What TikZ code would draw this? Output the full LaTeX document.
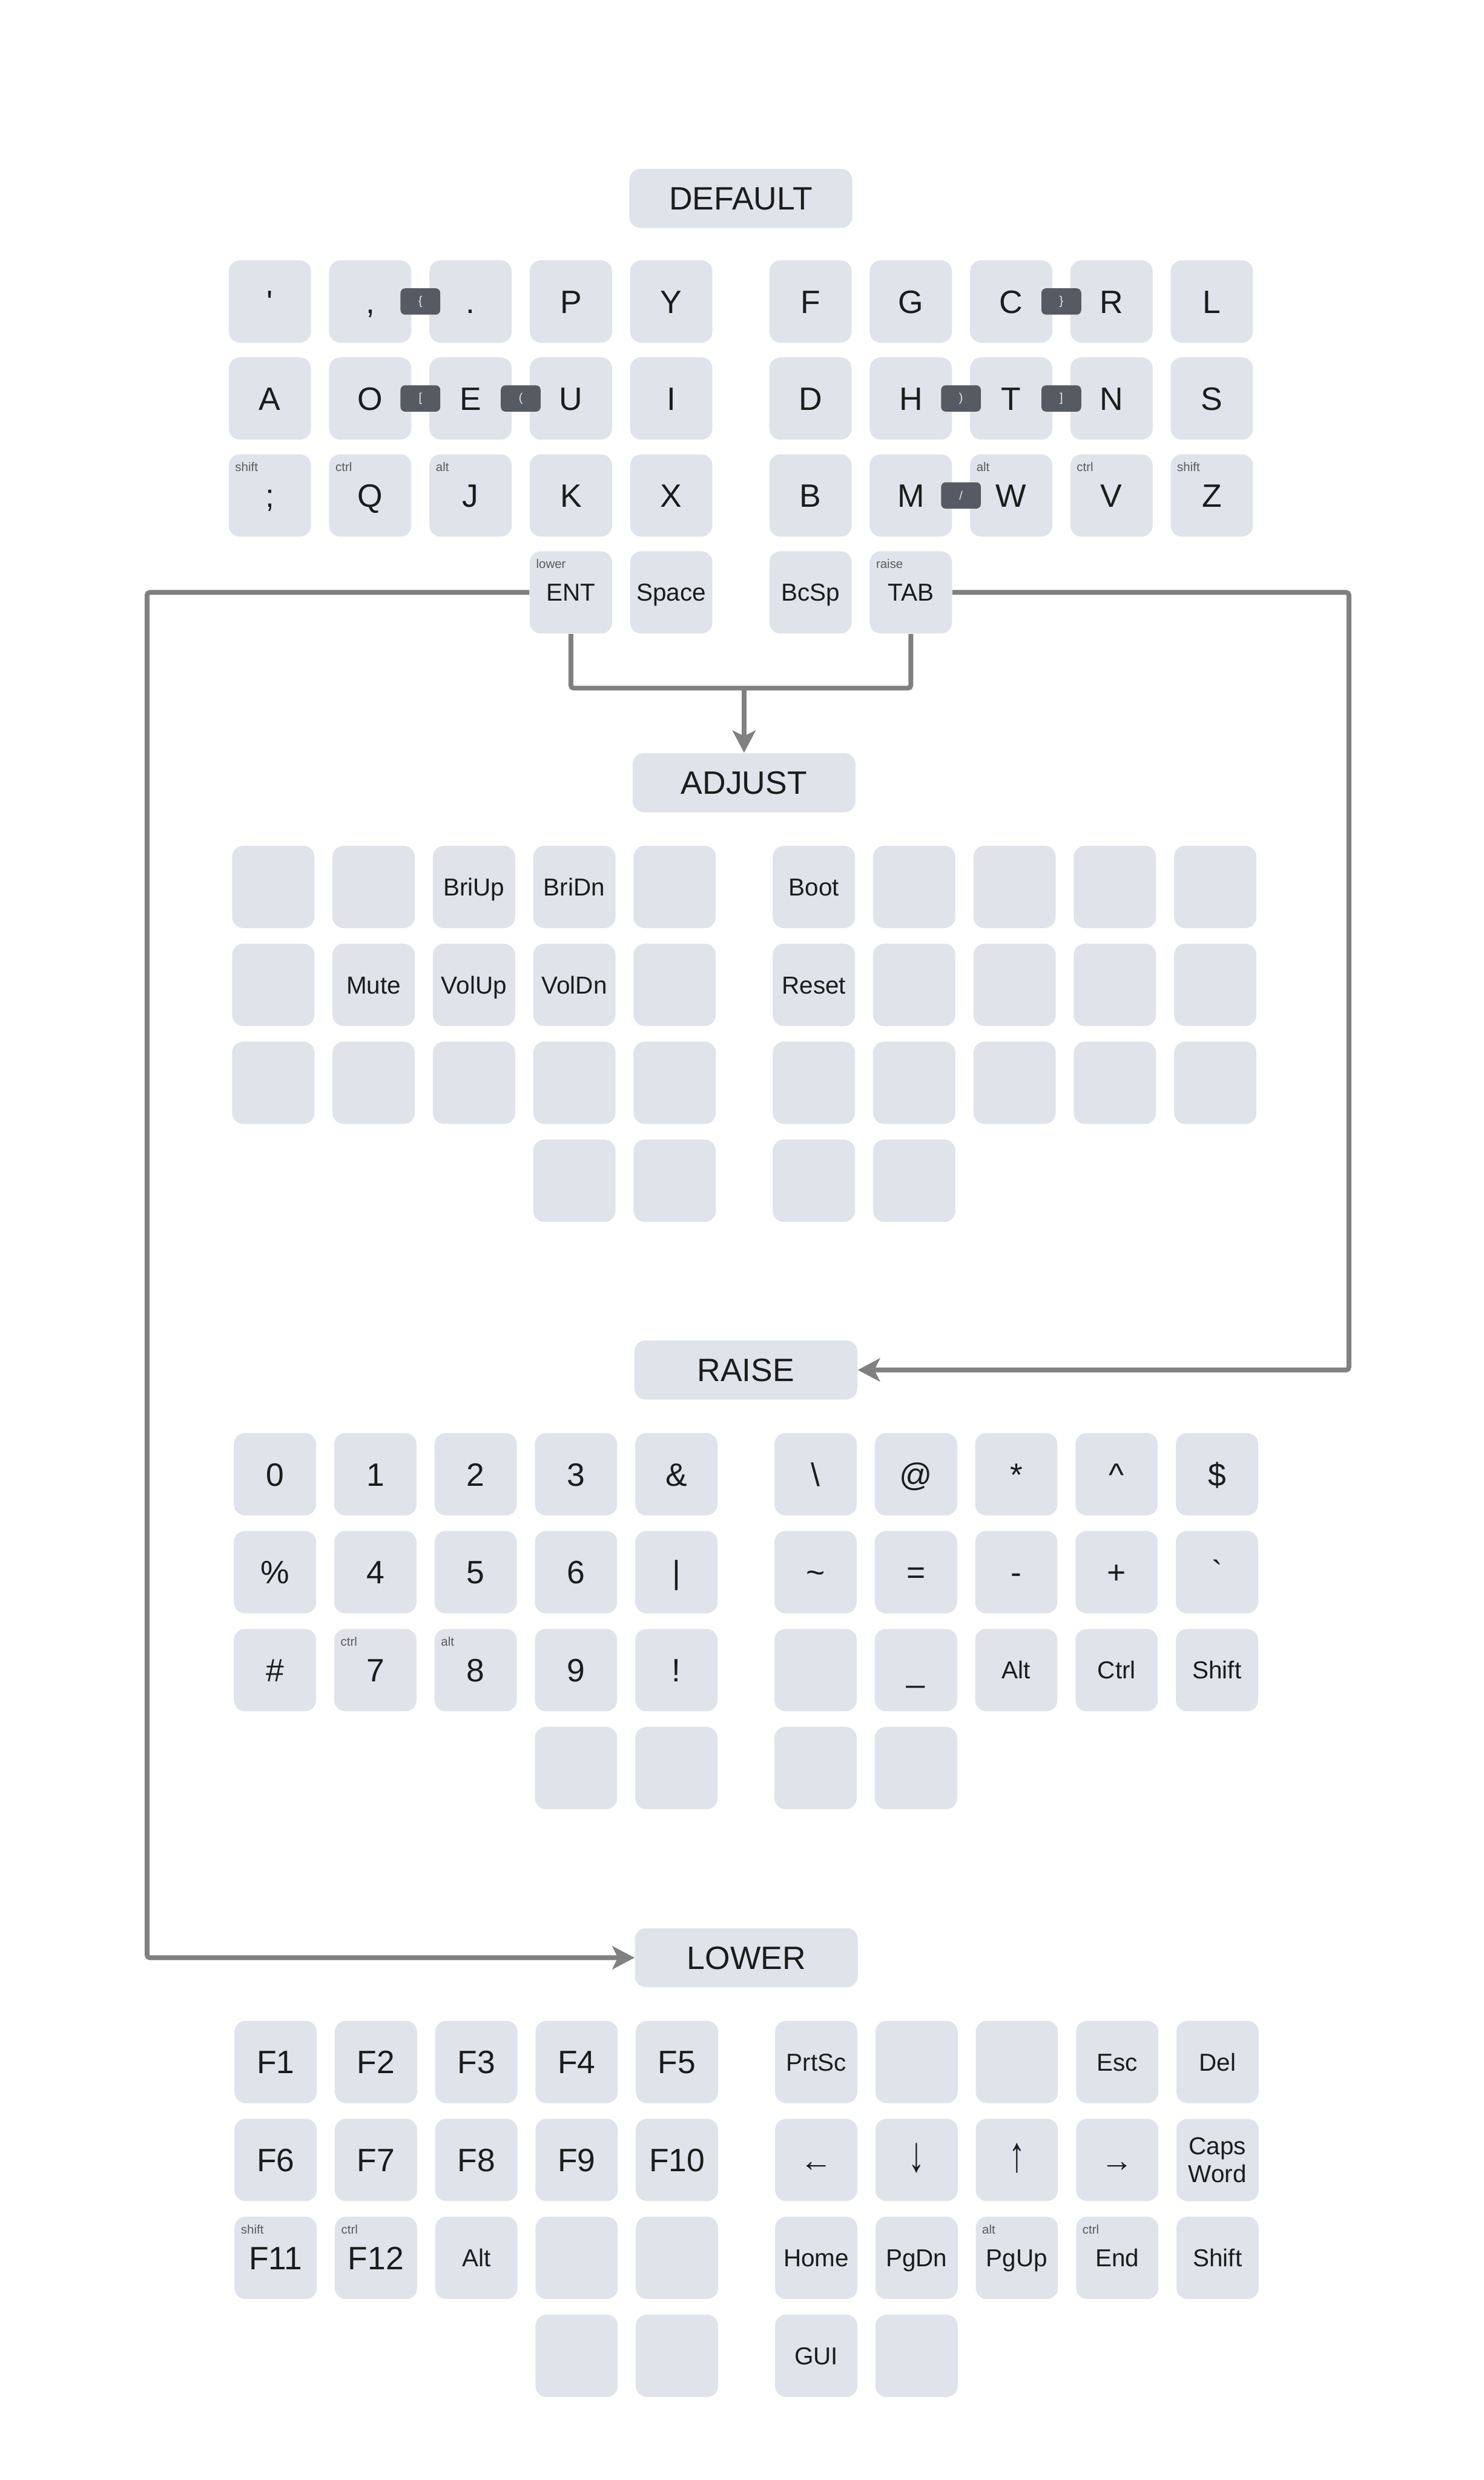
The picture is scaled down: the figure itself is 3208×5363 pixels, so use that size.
\documentclass[tikz,border=0pt]{standalone}
\usepackage{fontspec}
\setmainfont{Liberation Sans}[Ligatures=TeXOff]
\usetikzlibrary{arrows.meta,calc}
\definecolor{keyfill}{HTML}{E0E4EA}
\definecolor{keytext}{HTML}{1C1C1C}
\definecolor{holdtext}{HTML}{5A5A5A}
\definecolor{badgefill}{HTML}{565B63}
\definecolor{badgetext}{HTML}{E4E7EC}
\definecolor{linegray}{HTML}{808080}
\newcommand\kbig{\fontsize{17.5pt}{21pt}\selectfont}
\newcommand\ksmall{\fontsize{13.25pt}{15pt}\selectfont}
\newcommand\khold{\fontsize{6.7pt}{8pt}\selectfont}
\newcommand\kbadge{\fontsize{6.5pt}{8pt}\selectfont}
\newcommand\kst{\rule[-0.21em]{0pt}{1.136em}}
\tikzset{
  keybox/.style={rectangle, rounded corners=6pt, minimum width=44.5pt, minimum height=44.5pt, inner sep=0pt, fill=keyfill, text=keytext, font=\kbig, align=center},
  sm/.style={font=\ksmall},
  titlebox/.style={rectangle, rounded corners=6pt, minimum width=120.5pt, minimum height=32pt, inner sep=0pt, fill=keyfill, text=keytext, font=\kbig},
  holdlbl/.style={anchor=base west, inner sep=0pt, text=holdtext, font=\khold},
  badge/.style={rectangle, rounded corners=2.5pt, minimum width=21.5pt, minimum height=14.25pt, inner sep=0pt, fill=badgefill, text=badgetext, font=\kbadge},
  conn/.style={draw=linegray, line width=2.6pt, rounded corners=1.5pt},
  arr/.style={-{Stealth[length=12pt,width=12.5pt,inset=3pt]}}
}
\def\colc{{89,306,523,740,957,1258,1475,1692,1909,2126}}
\newcommand\kcap[5][]{%
  \pgfmathsetmacro\kxx{\LX+\colc[#3]}%
  \pgfmathsetmacro\kyy{\LY+#4*\RP+89}%
  \node[keybox,#1] (#2) at (\kxx,\kyy) {\kst#5};}
\newcommand\khl[3]{\node[holdlbl] (#1) at ($(#2.north west)+(3.5pt,-9.5pt)$) {#3};}
\newcommand\kbd[4]{\node[badge] (#1) at ($(#2)!0.5!(#3)$) {#4};}
\newcommand\vup[1]{\scalebox{1}[1.55]{#1}}
\begin{document}
\begin{tikzpicture}[x=0.25pt,y=-0.25pt]
\fill[white] (0,0) rectangle (3208,5363);
\useasboundingbox (0,0) rectangle (3208,5363);
% ---------------- DEFAULT ----------------
\node[titlebox] (tDefault) at (1602,429) {\kst DEFAULT};
\def\LX{494.6}\def\LY{563}\def\RP{209.7}
\kcap{d00}{0}{0}{'}\kcap{d01}{1}{0}{,}\kcap{d02}{2}{0}{.}\kcap{d03}{3}{0}{P}\kcap{d04}{4}{0}{Y}
\kcap{d05}{5}{0}{F}\kcap{d06}{6}{0}{G}\kcap{d07}{7}{0}{C}\kcap{d08}{8}{0}{R}\kcap{d09}{9}{0}{L}
\kcap{d10}{0}{1}{A}\kcap{d11}{1}{1}{O}\kcap{d12}{2}{1}{E}\kcap{d13}{3}{1}{U}\kcap{d14}{4}{1}{I}
\kcap{d15}{5}{1}{D}\kcap{d16}{6}{1}{H}\kcap{d17}{7}{1}{T}\kcap{d18}{8}{1}{N}\kcap{d19}{9}{1}{S}
\kcap{d20}{0}{2}{;}\kcap{d21}{1}{2}{Q}\kcap{d22}{2}{2}{J}\kcap{d23}{3}{2}{K}\kcap{d24}{4}{2}{X}
\kcap{d25}{5}{2}{B}\kcap{d26}{6}{2}{M}\kcap{d27}{7}{2}{W}\kcap{d28}{8}{2}{V}\kcap{d29}{9}{2}{Z}
\kcap[sm]{d33}{3}{3}{ENT}\kcap[sm]{d34}{4}{3}{Space}\kcap[sm]{d35}{5}{3}{BcSp}\kcap[sm]{d36}{6}{3}{TAB}
\khl{hd20}{d20}{shift}\khl{hd21}{d21}{ctrl}\khl{hd22}{d22}{alt}
\khl{hd27}{d27}{alt}\khl{hd28}{d28}{ctrl}\khl{hd29}{d29}{shift}
\khl{hd33}{d33}{lower}\khl{hd36}{d36}{raise}
\kbd{b1}{d01}{d02}{\{}\kbd{b2}{d07}{d08}{\}}
\kbd{b3}{d11}{d12}{[}\kbd{b4}{d12}{d13}{(}
\kbd{b5}{d16}{d17}{)}\kbd{b6}{d17}{d18}{]}
\kbd{b7}{d26}{d27}{/}
% ---------------- ADJUST ----------------
\node[titlebox] (tAdjust) at (1609,1692.5) {\kst ADJUST};
\def\LX{502}\def\LY{1829}\def\RP{211.8}
\kcap{a00}{0}{0}{}\kcap{a01}{1}{0}{}\kcap[sm]{a02}{2}{0}{BriUp}\kcap[sm]{a03}{3}{0}{BriDn}\kcap{a04}{4}{0}{}
\kcap[sm]{a05}{5}{0}{Boot}\kcap{a06}{6}{0}{}\kcap{a07}{7}{0}{}\kcap{a08}{8}{0}{}\kcap{a09}{9}{0}{}
\kcap{a10}{0}{1}{}\kcap[sm]{a11}{1}{1}{Mute}\kcap[sm]{a12}{2}{1}{VolUp}\kcap[sm]{a13}{3}{1}{VolDn}\kcap{a14}{4}{1}{}
\kcap[sm]{a15}{5}{1}{Reset}\kcap{a16}{6}{1}{}\kcap{a17}{7}{1}{}\kcap{a18}{8}{1}{}\kcap{a19}{9}{1}{}
\kcap{a20}{0}{2}{}\kcap{a21}{1}{2}{}\kcap{a22}{2}{2}{}\kcap{a23}{3}{2}{}\kcap{a24}{4}{2}{}
\kcap{a25}{5}{2}{}\kcap{a26}{6}{2}{}\kcap{a27}{7}{2}{}\kcap{a28}{8}{2}{}\kcap{a29}{9}{2}{}
\kcap{a33}{3}{3}{}\kcap{a34}{4}{3}{}\kcap{a35}{5}{3}{}\kcap{a36}{6}{3}{}
% ---------------- RAISE ----------------
\node[titlebox] (tRaise) at (1613,2962.5) {\kst RAISE};
\def\LX{505.7}\def\LY{3099}\def\RP{211.8}
\kcap{r00}{0}{0}{0}\kcap{r01}{1}{0}{1}\kcap{r02}{2}{0}{2}\kcap{r03}{3}{0}{3}\kcap{r04}{4}{0}{\&}
\kcap{r05}{5}{0}{\textbackslash}\kcap{r06}{6}{0}{@}\kcap{r07}{7}{0}{*}\kcap{r08}{8}{0}{\textasciicircum}\kcap{r09}{9}{0}{\$}
\kcap{r10}{0}{1}{\%}\kcap{r11}{1}{1}{4}\kcap{r12}{2}{1}{5}\kcap{r13}{3}{1}{6}\kcap{r14}{4}{1}{\textbar}
\kcap{r15}{5}{1}{\textasciitilde}\kcap{r16}{6}{1}{=}\kcap{r17}{7}{1}{-}\kcap{r18}{8}{1}{+}\kcap{r19}{9}{1}{`}
\kcap{r20}{0}{2}{\#}\kcap{r21}{1}{2}{7}\kcap{r22}{2}{2}{8}\kcap{r23}{3}{2}{9}\kcap{r24}{4}{2}{!}
\kcap{r25}{5}{2}{}\kcap{r26}{6}{2}{\_}\kcap[sm]{r27}{7}{2}{Alt}\kcap[sm]{r28}{8}{2}{Ctrl}\kcap[sm]{r29}{9}{2}{Shift}
\kcap{r33}{3}{3}{}\kcap{r34}{4}{3}{}\kcap{r35}{5}{3}{}\kcap{r36}{6}{3}{}
\khl{hr21}{r21}{ctrl}\khl{hr22}{r22}{alt}
% ---------------- LOWER ----------------
\node[titlebox] (tLower) at (1614,4233.5) {\kst LOWER};
\def\LX{507}\def\LY{4370}\def\RP{211.8}
\kcap{l00}{0}{0}{F1}\kcap{l01}{1}{0}{F2}\kcap{l02}{2}{0}{F3}\kcap{l03}{3}{0}{F4}\kcap{l04}{4}{0}{F5}
\kcap[sm]{l05}{5}{0}{PrtSc}\kcap{l06}{6}{0}{}\kcap{l07}{7}{0}{}\kcap[sm]{l08}{8}{0}{Esc}\kcap[sm]{l09}{9}{0}{Del}
\kcap{l10}{0}{1}{F6}\kcap{l11}{1}{1}{F7}\kcap{l12}{2}{1}{F8}\kcap{l13}{3}{1}{F9}\kcap{l14}{4}{1}{F10}
\kcap{l15}{5}{1}{←}\kcap{l16}{6}{1}{\vup{↓}}\kcap{l17}{7}{1}{\vup{↑}}\kcap{l18}{8}{1}{→}
\node[keybox,sm] (l19) at (2633,4671) {Caps\\Word};
\kcap{l20}{0}{2}{F11}\kcap{l21}{1}{2}{F12}\kcap[sm]{l22}{2}{2}{Alt}\kcap{l23}{3}{2}{}\kcap{l24}{4}{2}{}
\kcap[sm]{l25}{5}{2}{Home}\kcap[sm]{l26}{6}{2}{PgDn}\kcap[sm]{l27}{7}{2}{PgUp}\kcap[sm]{l28}{8}{2}{End}\kcap[sm]{l29}{9}{2}{Shift}
\kcap{l33}{3}{3}{}\kcap{l34}{4}{3}{}\kcap[sm]{l35}{5}{3}{GUI}\kcap{l36}{6}{3}{}
\khl{hl20}{l20}{shift}\khl{hl21}{l21}{ctrl}\khl{hl27}{l27}{alt}\khl{hl28}{l28}{ctrl}
% ---------------- connectors ----------------
\coordinate (cL) at (318,0);
\coordinate (cR) at (2917,0);
\coordinate (cJ) at (1609,1488);
\draw[conn,arr] (d33.west) -| (cL |- tLower.west) -- (tLower.west);
\draw[conn,arr] (d36.east) -| (cR |- tRaise.east) -- (tRaise.east);
\draw[conn] (d33.south) |- (cJ) -| (d36.south);
\draw[conn,arr] (cJ) -- (tAdjust.north);
\end{tikzpicture}
\end{document}
